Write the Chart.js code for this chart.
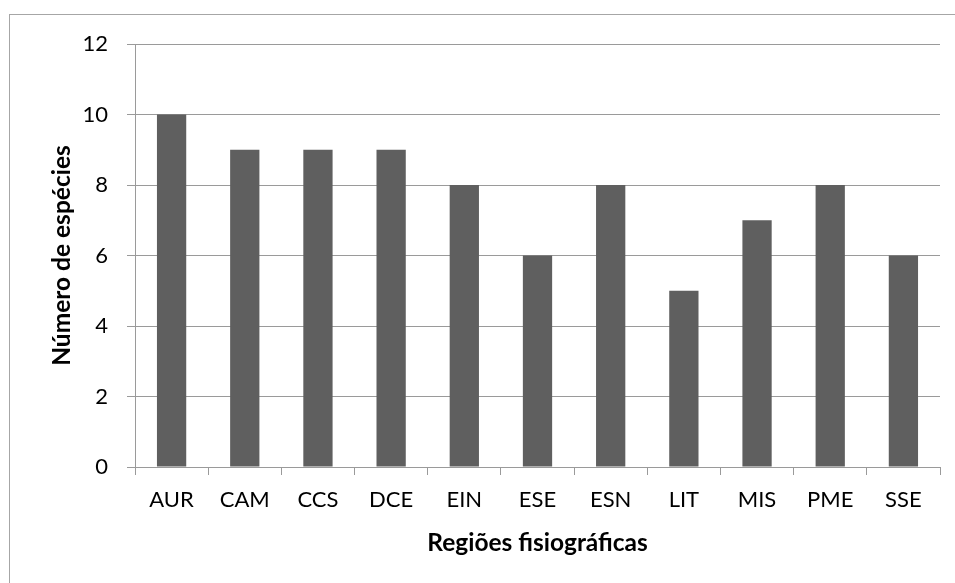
<!DOCTYPE html>
<html>
<head>
<meta charset="utf-8">
<script src="https://cdn.jsdelivr.net/npm/chart.js@4/dist/chart.umd.min.js"></script>
<style>
  html, body { margin: 0; padding: 0; background: #fff; }
  #wrap { width: 955px; height: 583px; }
</style>
</head>
<body>
<div id="wrap"><canvas id="barChart" width="955" height="583"></canvas></div>
<script>
var regioes = ['AUR', 'CAM', 'CCS', 'DCE', 'EIN', 'ESE', 'ESN', 'LIT', 'MIS', 'PME', 'SSE'];
var especies = [10, 9, 9, 9, 8, 6, 8, 5, 7, 8, 6];
var yTicks = [0, 2, 4, 6, 8, 10, 12];

var fonte = 'Lato, "Liberation Sans", sans-serif';
var cinza = '#9a9a9a';

// white background and the thin frame around the chart
var moldura = {
    id: 'moldura',
    beforeDraw: function (chart) {
        var ctx = chart.ctx;
        ctx.save();
        ctx.fillStyle = '#ffffff';
        ctx.fillRect(0, 0, chart.width, chart.height);
        ctx.strokeStyle = '#a6a6a6';
        ctx.lineWidth = 1;
        ctx.strokeRect(9.5, 14.5, chart.width + 20, chart.height + 20);
        ctx.restore();
    }
};

var ctx = document.getElementById('barChart').getContext('2d');
var barChart = new Chart(ctx, {
    type: 'bar',
    data: {
        labels: regioes,
        datasets: [{
            data: especies,
            backgroundColor: '#5f5f5f',
            barPercentage: 0.4,
            categoryPercentage: 1.0
        }]
    },
    options: {
        responsive: false,
        animation: false,
        layout: { padding: { left: 10, right: 15, top: 44, bottom: 0 } },
        plugins: {
            legend: { display: false },
            tooltip: { enabled: false }
        },
        scales: {
            x: {
                grid: {
                    display: true,
                    drawOnChartArea: false,
                    drawTicks: true,
                    tickLength: 8,
                    color: cinza
                },
                border: { display: true, color: cinza },
                ticks: {
                    color: '#000',
                    font: { family: fonte, size: 22 },
                    padding: 12,
                    maxRotation: 0
                },
                title: {
                    display: true,
                    text: 'Regiões fisiográficas',
                    color: '#000',
                    font: { family: fonte, size: 24.5, weight: 'bold' },
                    padding: { top: 10, bottom: 25 }
                },
                afterFit: function (scale) { scale.height = 583 - 467; }
            },
            y: {
                min: 0,
                max: 12,
                afterBuildTicks: function (scale) {
                    scale.ticks = yTicks.map(function (v) { return { value: v }; });
                },
                grid: {
                    color: cinza,
                    tickLength: 8
                },
                border: { display: true, color: cinza },
                ticks: {
                    color: '#000',
                    font: { family: fonte, size: 22 },
                    padding: 19
                },
                title: {
                    display: true,
                    text: 'Número de espécies',
                    color: '#000',
                    font: { family: fonte, size: 24.5, weight: 'bold' },
                    padding: { top: 37, bottom: 0 }
                },
                afterFit: function (scale) { scale.width = 135 - 10; }
            }
        }
    },
    plugins: [moldura]
});
</script>
</body>
</html>
